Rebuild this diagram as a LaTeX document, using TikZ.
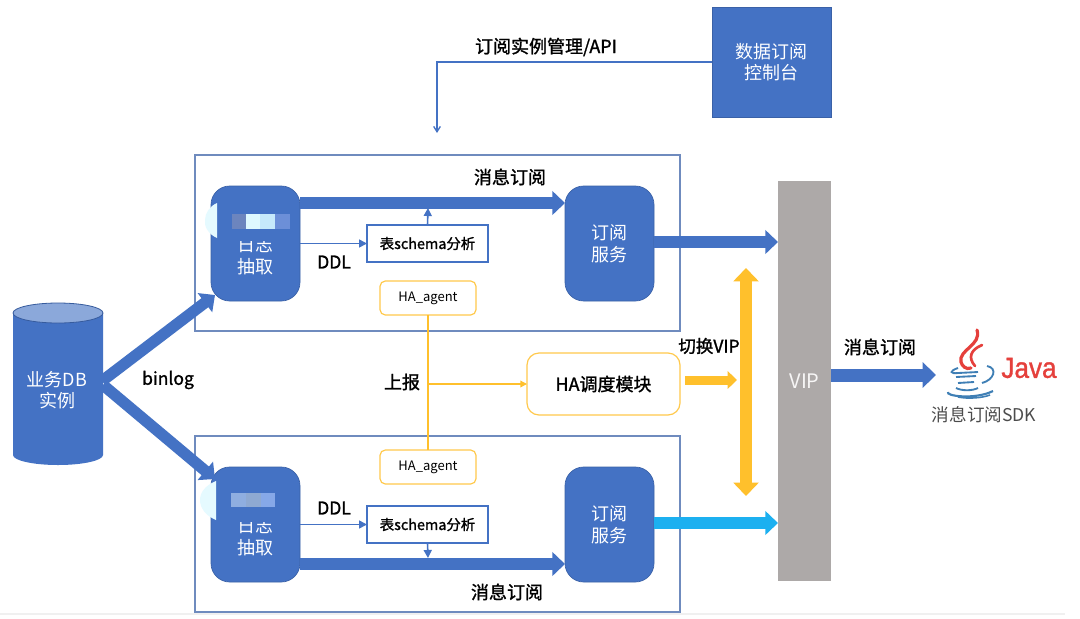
\documentclass[tikz,border=0pt]{standalone}
\usepackage{fontspec}
\setmainfont{Noto Sans CJK SC}
\newfontfamily\latinsans[FakeBold=1.2]{Liberation Sans}
\newfontfamily\medfont[FakeBold=1.3]{Noto Sans CJK SC}
\usetikzlibrary{arrows.meta,shapes.geometric,calc}
\definecolor{dsblue}{HTML}{4472C4}
\definecolor{framed}{HTML}{6F8BBE}
\definecolor{dsyellow}{HTML}{FFC02C}
\definecolor{dsgrey}{HTML}{ADA9A8}
\definecolor{dscyan}{HTML}{1CB0F0}
\definecolor{javared}{HTML}{E5403C}
\definecolor{javablue}{HTML}{3F7FB5}
\definecolor{mosaicA}{HTML}{6C85BE}
\definecolor{mosaicB}{HTML}{DFF9FF}
\definecolor{mosaicC}{HTML}{C6E9FB}
\definecolor{mosaicD}{HTML}{6C8FD8}
\definecolor{mosaicE}{HTML}{8FAEE0}
\definecolor{mosaicF}{HTML}{8EA9D2}
\definecolor{mosaicG}{HTML}{86A8E8}
% font size given in picture pixels
\newcommand{\pxs}[1]{\fontsize{\dimexpr#1pt*3/4\relax}{\dimexpr#1pt*9/10\relax}\selectfont}
\tikzset{
  x=0.75pt,y=-0.75pt,
  solidbox/.style={fill=dsblue,draw=dsblue!85!black,line width=0.5pt,text=white,rounded corners=14pt,align=center,inner sep=0pt,outer sep=0pt},
  frame/.style={draw=framed,line width=0.9pt,fill=white},
  schemabox/.style={draw=dsblue,line width=0.9pt,fill=white,minimum width=90.75pt,minimum height=27.75pt,inner sep=0pt,outer sep=0pt,font=\medfont\pxs{14.4}},
  agentbox/.style={draw=dsyellow!85!white,line width=0.9pt,fill=white,rounded corners=4pt,minimum width=72pt,minimum height=25.5pt,inner sep=0pt,outer sep=0pt,font=\pxs{13}},
  fat/.style={draw=dsblue,line width=8.5pt,-{Triangle[width=17.5pt,length=9.5pt]}},
  linkarrow/.style={draw=dsblue,line width=1.2pt,-{Triangle[width=6pt,length=6pt]}},
  lab/.style={font=\medfont\pxs{18},text=black,inner sep=0pt},
  latinlab/.style={font=\medfont\pxs{17.5},text=black,inner sep=0pt},
  logtext/.style={text=white,inner sep=0pt,font=\pxs{18}},
  halink/.style={draw=dsyellow,line width=1pt},
}
\begin{document}
\begin{tikzpicture}
\useasboundingbox (0,0) rectangle (1080,618);
\fill[white] (0,0) rectangle (1080,618);
\fill[black!6] (0,613) rectangle (1065,615);

% console and its management link
\node[fill=dsblue,draw=dsblue!85!black,line width=0.5pt,minimum width=89.25pt,minimum height=82.5pt,inner sep=0pt,text=white,align=center,font=\pxs{18}] (console) at (771.5,62) {数据订阅\\控制台};
\coordinate (apiend) at (437,133);
\draw[draw=dsblue,line width=1pt,-{Straight Barb[width=5pt,length=4pt]}] (console.west) -| (apiend);
\node[lab] (apilabel) at (546,47) {订阅实例管理/API};

% the two subscription frames
\node[frame,minimum width=363.75pt,minimum height=132pt,inner sep=0pt,outer sep=0pt] (topframe) at (437.5,243) {};
\node[frame,minimum width=363.75pt,minimum height=132pt,inner sep=0pt,outer sep=0pt] (botframe) at (437.5,524) {};

% upper frame contents
\node[solidbox,minimum width=66.75pt,minimum height=86.25pt] (toplog) at (255.5,243.5) {};
\node[logtext] (toplogname) at (255,245) {日志};
\node[logtext] (toplogact) at (255,267) {抽取};
\node[solidbox,minimum width=66.75pt,minimum height=86.25pt,font=\pxs{18}] (topsvc) at (609.5,243.5) {订阅\\服务};
\node[schemabox] (topschema) at (427.5,243.5) {表schema分析};
\node[agentbox] (topagent) at (428,298) {HA\_agent};

% lower frame contents
\node[solidbox,minimum width=66.75pt,minimum height=86.25pt] (botlog) at (255.5,524.5) {};
\node[logtext] (botlogname) at (255,526) {日志};
\node[logtext] (botlogact) at (255,548) {抽取};
\node[solidbox,minimum width=66.75pt,minimum height=86.25pt,font=\pxs{18}] (botsvc) at (609.5,524.5) {订阅\\服务};
\node[schemabox] (botschema) at (427.5,524.5) {表schema分析};
\node[agentbox] (botagent) at (428,467) {HA\_agent};

% obscured patches over the log extraction boxes
\fill[dsblue] (218,229) rectangle (298,241);
\fill[dsblue] (218,510) rectangle (298,522);
\fill[mosaicB!80!white] (217,203) -- (217,238) .. controls (208,234) and (204,226) .. (205,220) .. controls (205,213) and (210,206) .. (217,203) -- cycle;
\fill[mosaicB!80!white] (216,481) -- (216,520) .. controls (206,516) and (200,508) .. (200,500) .. controls (200,492) and (206,485) .. (216,481) -- cycle;
\fill[mosaicA] (232,214) rectangle (246,229);
\fill[mosaicB] (246,214) rectangle (260,229);
\fill[mosaicC] (260,214) rectangle (275,229);
\fill[mosaicD] (275,214) rectangle (290,229);
\fill[mosaicE] (231,493) rectangle (246,507);
\fill[mosaicF] (246,493) rectangle (261,507);
\fill[mosaicG] (261,493) rectangle (275,507);

% database cylinder
\fill[dsblue] (13,313) -- (13,455) arc[start angle=180,end angle=360,x radius=45,y radius=-10] -- (103,313) -- cycle;
\draw[dsblue!80!black,line width=0.6pt,fill=dsblue!62!white] (58,313) ellipse[x radius=45,y radius=10];
\node[text=white,align=center,inner sep=0pt,font=\pxs{18}] (db) at (57,390) {业务DB\\实例};
\coordinate (dbup) at (102,381);
\coordinate (dbdown) at (103,385);

% VIP bar
\node[fill=dsgrey,minimum width=39.75pt,minimum height=300pt,inner sep=0pt,outer sep=0pt,text=white!90!dsgrey,font=\pxs{20}] (vip) at (804.5,381) {VIP};

% scheduling module
\node[draw=dsyellow!85!white,line width=0.9pt,fill=white,rounded corners=9pt,minimum width=114.75pt,minimum height=46.5pt,inner sep=0pt,outer sep=0pt,font=\medfont\pxs{18}] (hamod) at (603.5,384) {HA调度模块};

% data flow arrows
\coordinate (toplogin) at (215,295);
\coordinate (botlogin) at (215,479);
\draw[fat] (dbup) -- (toplogin);
\draw[fat] (dbdown) -- (botlogin);
\draw[fat] ($(toplog.north east)+(0,17)$) -- ($(topsvc.north west)+(0,17)$);
\draw[fat] ($(botlog.south east)+(0,-18)$) -- ($(botsvc.south west)+(0,-18)$);
\draw[fat] ($(topsvc.east)+(0,-1.5)$) -- ($(vip.west)+(0,-139)$);
\draw[fat,draw=dscyan] ($(botsvc.east)+(0,-1.5)$) -- ($(vip.west)+(0,142)$);
\coordinate (sdkend) at (936,375);
\draw[draw=dsblue,line width=9.75pt,-{Triangle[width=18.75pt,length=10pt]}] (vip.east |- sdkend) -- (sdkend);

% schema analysis links
\draw[linkarrow] (toplog.east) -- (topschema.west);
\draw[linkarrow] (botlog.east) -- (botschema.west);
\coordinate (topmain) at (428,208);
\coordinate (botmain) at (428,558);
\draw[linkarrow] (topschema.north) -- (topmain);
\draw[linkarrow] (botschema.south) -- (botmain);

% heartbeat reporting
\draw[halink] (topagent.south) -- (botagent.north);
\coordinate (tap) at (428,384);
\draw[halink,-{Triangle[width=5pt,length=5pt]}] (tap) -- (hamod.west);

% VIP switching arrows
\coordinate (switchA) at (685,380);
\coordinate (switchB) at (737,380);
\draw[draw=dsyellow,line width=6.75pt,-{Triangle[width=13pt,length=7pt]}] (switchA) -- (switchB);
\coordinate (vipup) at (746,268);
\coordinate (vipdown) at (746,496);
\draw[draw=dsyellow,line width=9pt,{Triangle[width=18.5pt,length=10pt]}-{Triangle[width=18.5pt,length=10pt]}] (vipup) -- (vipdown);

% labels
\node[lab] (subtop) at (510,177) {消息订阅};
\node[lab] (subbot) at (507,592) {消息订阅};
\node[latinlab] (ddltop) at (334,262) {DDL};
\node[latinlab] (ddlbot) at (334,508) {DDL};
\node[latinlab] (binlog) at (168,380) {binlog};
\node[lab] (report) at (402,382) {上报};
\node[latinlab] (switchvip) at (709,346) {切换VIP};
\node[lab] (subout) at (880,347) {消息订阅};
\node[inner sep=0pt,text=black!70,font=\pxs{17.6}] (sdk) at (984,415) {消息订阅SDK};

% Java logo
\draw[javared,line width=2.4pt,line cap=round] (977,330) .. controls (982,345) and (958,350) .. (961,362) .. controls (962,366) and (966,370) .. (971,368);
\draw[javared,line width=2pt,line cap=round] (982,345) .. controls (970,350) and (968,358) .. (975,366);
\draw[javablue,line width=1.4pt] (958,368) .. controls (949,371) and (950,374) .. (958,373) -- (978,372);
\draw[javablue,line width=1.4pt] (987,366) .. controls (998,368) and (994,380) .. (982,383);
\draw[javablue,line width=1.4pt] (956,377) -- (976,376);
\draw[javablue,line width=1.4pt] (958,383) -- (974,382);
\draw[javablue,line width=1.4pt] (956,388) .. controls (962,391) and (972,391) .. (978,388);
\draw[javablue,line width=1.6pt] (948,392) .. controls (945,396) and (975,400) .. (993,391);
\draw[javablue,line width=1.2pt] (958,397) .. controls (968,399) and (982,398) .. (990,395);
\node[inner sep=0pt,text=javared,font=\latinsans\pxs{29},xscale=0.9] (java) at (1029,368) {Java};
\end{tikzpicture}
\end{document}
